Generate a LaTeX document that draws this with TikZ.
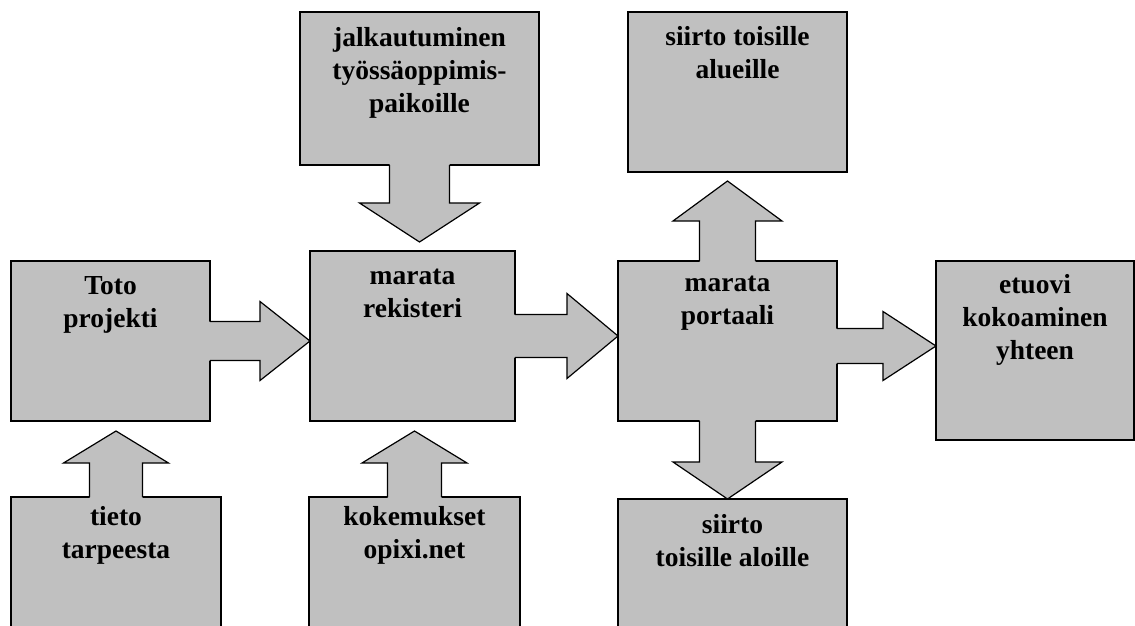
\documentclass[tikz,border=0pt]{standalone}
\usepackage{fontspec}
\setmainfont{Liberation Serif}
\usetikzlibrary{calc}
\definecolor{boxgray}{RGB}{192,192,192}
\tikzset{
  box/.style={draw, fill=boxgray, line width=1.2pt, anchor=north west, inner sep=0pt, outer sep=0pt},
  boxtext/.style={anchor=base, align=center, inner sep=0pt, font=\bfseries\fontsize{27.5}{33}\selectfont},
}
% block arrow: from, to, shaft half width, head half width, head length
\newcommand\blockarrow[5]{%
  \coordinate (ba-s) at (#1);
  \coordinate (ba-t) at (#2);
  \coordinate (ba-b) at ($(ba-s)!-2pt!(ba-t)$);
  \coordinate (ba-h) at ($(ba-t)!#5!(ba-s)$);
  \fill[boxgray] ($(ba-b)!#3!90:(ba-t)$) -- ($(ba-h)!#3!90:(ba-t)$) -- ($(ba-h)!#4!90:(ba-t)$) -- (ba-t)
    -- ($(ba-h)!#4!-90:(ba-t)$) -- ($(ba-h)!#3!-90:(ba-t)$) -- ($(ba-b)!#3!-90:(ba-t)$) -- cycle;
  \draw[line width=1.2pt] ($(ba-s)!#3!90:(ba-t)$) -- ($(ba-h)!#3!90:(ba-t)$) -- ($(ba-h)!#4!90:(ba-t)$) -- (ba-t)
    -- ($(ba-h)!#4!-90:(ba-t)$) -- ($(ba-h)!#3!-90:(ba-t)$) -- ($(ba-s)!#3!-90:(ba-t)$);
}
\begin{document}
\begin{tikzpicture}[x=1pt,y=-1pt]
  \useasboundingbox (0,0) rectangle (1135,626);
  \clip (0,0) rectangle (1135,626);
  % boxes
  \node[box, minimum width=199pt, minimum height=160pt] (toto) at (11,261) {};
  \node[box, minimum width=205pt, minimum height=170pt] (rek) at (310,251) {};
  \node[box, minimum width=239pt, minimum height=153pt] (jalk) at (300,12) {};
  \node[box, minimum width=219pt, minimum height=160pt] (alue) at (628,12) {};
  \node[box, minimum width=219pt, minimum height=160pt] (port) at (618,261) {};
  \node[box, minimum width=198pt, minimum height=179pt] (etuo) at (936,261) {};
  \node[box, minimum width=229pt, minimum height=150pt] (alo) at (618,499) {};
  \node[box, minimum width=210pt, minimum height=150pt] (tieto) at (11,497) {};
  \node[box, minimum width=211pt, minimum height=150pt] (kok) at (309,497) {};
  % arrows
  \coordinate (toto-in) at ([yshift=-10pt]toto.south);
  \coordinate (rek-in) at ([yshift=-10pt]rek.south);
  \coordinate (rek-top) at ([yshift=9pt]rek.north);
  \coordinate (alue-in) at ([yshift=-9pt]alue.south);
  \blockarrow{tieto.north}{ba-s |- toto-in}{26.5pt}{52.5pt}{32pt}
  \blockarrow{kok.north}{ba-s |- rek-in}{27pt}{52.5pt}{32pt}
  \blockarrow{jalk.south}{ba-s |- rek-top}{30pt}{60pt}{39pt}
  \blockarrow{port.north}{ba-s |- alue-in}{28pt}{54.5pt}{40pt}
  \blockarrow{port.south}{ba-s |- alo.north}{28pt}{54.5pt}{37pt}
  \blockarrow{toto.east}{ba-s -| rek.west}{19.5pt}{39.5pt}{50pt}
  \blockarrow{rek.east}{ba-s -| port.west}{21.5pt}{42.5pt}{51pt}
  \blockarrow{[yshift=-5pt]port.east}{ba-s -| etuo.west}{17.5pt}{34.5pt}{53pt}
  % texts (anchored at the baseline of the last line)
  \node[boxtext] (toto-t) at ([yshift=-66pt]toto.north) {Toto\\projekti};
  \node[boxtext] (rek-t) at ([yshift=-66pt]rek.north) {marata\\rekisteri};
  \node[boxtext] (jalk-t) at ([yshift=-100pt]jalk.north) {jalkautuminen\\työssäoppimis-\\paikoille};
  \node[boxtext] (alue-t) at ([yshift=-66pt]alue.north) {siirto toisille\\alueille};
  \node[boxtext] (port-t) at ([yshift=-63pt]port.north) {marata\\portaali};
  \node[boxtext] (etuo-t) at ([yshift=-98pt]etuo.north) {etuovi\\kokoaminen\\yhteen};
  \node[boxtext] (alo-t) at ([yshift=-67pt]alo.north) {siirto\\toisille aloille};
  \node[boxtext] (tieto-t) at ([yshift=-61pt]tieto.north) {tieto\\tarpeesta};
  \node[boxtext] (kok-t) at ([yshift=-61pt]kok.north) {kokemukset\\opixi.net};
\end{tikzpicture}
\end{document}
